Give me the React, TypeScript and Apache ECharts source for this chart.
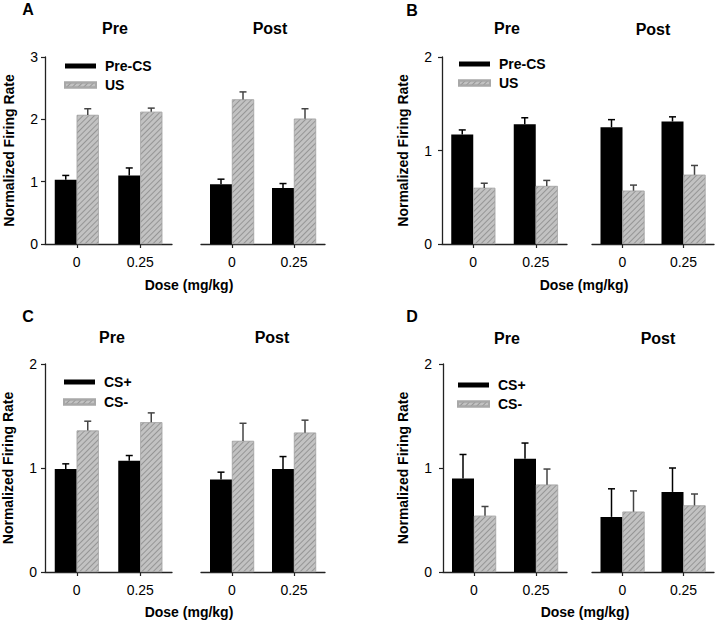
import React, { useEffect, useRef } from 'react';
import * as echarts from 'echarts';

// ---------- data ----------
const doseCategories = ['0', '0.25'];
const phases = ['Pre', 'Post'];

// Panel A: Pre-CS vs US
const aPrePreCS = [1.03, 1.1];
const aPrePreCSErr = [0.07, 0.12];
const aPreUS = [2.07, 2.12];
const aPreUSErr = [0.1, 0.06];
const aPostPreCS = [0.96, 0.9];
const aPostPreCSErr = [0.08, 0.07];
const aPostUS = [2.32, 2.01];
const aPostUSErr = [0.12, 0.16];

// Panel B: Pre-CS vs US
const bPrePreCS = [1.17, 1.28];
const bPrePreCSErr = [0.05, 0.07];
const bPreUS = [0.6, 0.62];
const bPreUSErr = [0.05, 0.06];
const bPostPreCS = [1.25, 1.31];
const bPostPreCSErr = [0.08, 0.05];
const bPostUS = [0.57, 0.74];
const bPostUSErr = [0.06, 0.1];

// Panel C: CS+ vs CS-
const cPreCSPlus = [0.99, 1.07];
const cPreCSPlusErr = [0.05, 0.05];
const cPreCSMinus = [1.36, 1.44];
const cPreCSMinusErr = [0.09, 0.09];
const cPostCSPlus = [0.89, 0.99];
const cPostCSPlusErr = [0.07, 0.12];
const cPostCSMinus = [1.26, 1.34];
const cPostCSMinusErr = [0.17, 0.12];

// Panel D: CS+ vs CS-
const dPreCSPlus = [0.9, 1.09];
const dPreCSPlusErr = [0.23, 0.15];
const dPreCSMinus = [0.54, 0.84];
const dPreCSMinusErr = [0.09, 0.15];
const dPostCSPlus = [0.53, 0.77];
const dPostCSPlusErr = [0.27, 0.23];
const dPostCSMinus = [0.58, 0.64];
const dPostCSMinusErr = [0.2, 0.11];

const legendAB = ['Pre-CS', 'US'];
const legendCD = ['CS+', 'CS-'];
const yMaxA = 3;
const yMaxOther = 2;

const yAxisName = 'Normalized Firing Rate';
const xAxisName = 'Dose (mg/kg)';

// ---------- layout / style ----------
const FONT = '"Liberation Sans", Arial, Helvetica, sans-serif';
const AXIS_COLOR = '#222';
const BAR_W = 22;
const GRAY = '#c2c2c2';

const panels = [
  {
    letter: 'A', letterPos: [28, 9],
    names: legendAB, yMax: yMaxA,
    pre: [aPrePreCS, aPrePreCSErr, aPreUS, aPreUSErr],
    post: [aPostPreCS, aPostPreCSErr, aPostUS, aPostUSErr],
    preGrid: [45, 127], postGrid: [201, 124], top: 57, height: 187,
    titles: [[115, 28], [270, 28]], dose: [189, 285],
    nameGap: 29, labelMargin: 7, legend: [59, 54, 5],
  },
  {
    letter: 'B', letterPos: [412, 10],
    names: legendAB, yMax: yMaxOther,
    pre: [bPrePreCS, bPrePreCSErr, bPreUS, bPreUSErr],
    post: [bPostPreCS, bPostPreCSErr, bPostUS, bPostUSErr],
    preGrid: [442, 125], postGrid: [592, 122], top: 57, height: 187,
    titles: [[507, 28], [653, 29]], dose: [584, 285],
    nameGap: 32, labelMargin: 10, legend: [453, 52, 5],
  },
  {
    letter: 'C', letterPos: [28, 316],
    names: legendCD, yMax: yMaxOther,
    pre: [cPreCSPlus, cPreCSPlusErr, cPreCSMinus, cPreCSMinusErr],
    post: [cPostCSPlus, cPostCSPlusErr, cPostCSMinus, cPostCSMinusErr],
    preGrid: [45, 127], postGrid: [201, 124], top: 364, height: 208,
    titles: [[112, 337], [272, 337]], dose: [189, 612],
    nameGap: 30, labelMargin: 8, legend: [58, 370, 6],
  },
  {
    letter: 'D', letterPos: [412, 316],
    names: legendCD, yMax: yMaxOther,
    pre: [dPreCSPlus, dPreCSPlusErr, dPreCSMinus, dPreCSMinusErr],
    post: [dPostCSPlus, dPostCSPlusErr, dPostCSMinus, dPostCSMinusErr],
    preGrid: [443, 124], postGrid: [592, 122], top: 364, height: 208,
    titles: [[507, 338], [658, 338]], dose: [585, 612],
    nameGap: 33, labelMargin: 11, legend: [452, 373, 5],
  },
];

const grayDecal = {
  symbol: 'rect',
  symbolSize: 1,
  color: '#959595',
  dashArrayX: [1, 0],
  dashArrayY: [0.9, 2.3],
  rotation: -Math.PI / 4,
};

function buildOption() {
  const grid: any[] = [];
  const xAxis: any[] = [];
  const yAxis: any[] = [];
  const series: any[] = [];
  const graphic: any[] = [];
  const legend: any[] = [];

  panels.forEach((p) => {
    graphic.push({
      type: 'text', x: p.letterPos[0], y: p.letterPos[1],
      style: { text: p.letter, font: `bold 16px ${FONT}`, fill: '#000', textAlign: 'center', textVerticalAlign: 'middle' },
    });
    graphic.push({
      type: 'text', x: p.dose[0], y: p.dose[1],
      style: { text: xAxisName, font: `bold 14px ${FONT}`, fill: '#000', textAlign: 'center', textVerticalAlign: 'middle' },
    });
    legend.push({
      left: p.legend[0], top: p.legend[1], orient: 'vertical',
      itemWidth: 31, itemHeight: 5, itemGap: p.legend[2],
      selectedMode: false, icon: 'rect',
      data: p.names,
      textStyle: { fontFamily: FONT, fontWeight: 'bold', fontSize: 14, color: '#000', padding: [0, 0, 0, 4] },
    });

    [p.pre, p.post].forEach((d, k) => {
      const gi = grid.length;
      const g = k === 0 ? p.preGrid : p.postGrid;
      grid.push({ left: g[0], width: g[1], top: p.top, height: p.height, containLabel: false });
      graphic.push({
        type: 'text', x: p.titles[k][0], y: p.titles[k][1],
        style: { text: phases[k], font: `bold 16px ${FONT}`, fill: '#000', textAlign: 'center', textVerticalAlign: 'middle' },
      });
      xAxis.push({
        type: 'category', gridIndex: gi, data: doseCategories, boundaryGap: true,
        axisLine: { show: true, lineStyle: { color: AXIS_COLOR, width: 1.3 } },
        axisTick: { show: true, alignWithLabel: true, length: 4, lineStyle: { color: AXIS_COLOR, width: 1.2 } },
        axisLabel: { fontFamily: FONT, fontSize: 14, color: '#000', margin: 11 },
        splitLine: { show: false },
      });
      yAxis.push({
        type: 'value', gridIndex: gi, min: 0, max: p.yMax, interval: 1,
        show: k === 0,
        axisLine: { show: true, lineStyle: { color: AXIS_COLOR, width: 1.3 } },
        axisTick: { show: true, length: 4, lineStyle: { color: AXIS_COLOR, width: 1.2 } },
        axisLabel: { fontFamily: FONT, fontSize: 14, color: '#000', margin: p.labelMargin },
        splitLine: { show: false },
        name: k === 0 ? yAxisName : '',
        nameLocation: 'middle', nameRotate: 90, nameGap: p.nameGap,
        nameTextStyle: { fontFamily: FONT, fontWeight: 'bold', fontSize: 14, color: '#000' },
      });
      const [v1, e1, v2, e2] = d as number[][];
      series.push({
        type: 'bar', name: p.names[0], xAxisIndex: gi, yAxisIndex: gi,
        data: v1, barWidth: BAR_W, barGap: '0%',
        itemStyle: { color: '#000' },
      });
      series.push({
        type: 'bar', name: p.names[1], xAxisIndex: gi, yAxisIndex: gi,
        data: v2, barWidth: BAR_W, barGap: '0%',
        itemStyle: { color: GRAY, borderColor: '#a8a8a8', borderWidth: 0.6, decal: grayDecal },
      });
      const errSeries = (vals: number[], errs: number[], sign: number, color: string) => ({
        type: 'custom', name: 'err', xAxisIndex: gi, yAxisIndex: gi, z: 5,
        data: vals.map((v, i) => [i, v, v + errs[i]]),
        renderItem: (params: any, api: any) => {
          const base = api.coord([api.value(0), api.value(1)]);
          const top = api.coord([api.value(0), api.value(2)]);
          const x = base[0] + sign * BAR_W / 2;
          const st = { stroke: color, lineWidth: 1.5 };
          return {
            type: 'group',
            children: [
              { type: 'line', shape: { x1: x, y1: base[1], x2: x, y2: top[1] }, style: st },
              { type: 'line', shape: { x1: x - 3.5, y1: top[1], x2: x + 3.5, y2: top[1] }, style: st },
            ],
          };
        },
      });
      series.push(errSeries(v1, e1, -1, '#000'));
      series.push(errSeries(v2, e2, 1, '#444'));
    });
  });

  return {
    animation: false,
    backgroundColor: '#fff',
    textStyle: { fontFamily: FONT },
    grid, xAxis, yAxis, series, graphic, legend,
  };
}

export default function App() {
  const ref = useRef<HTMLDivElement>(null);
  useEffect(() => {
    if (!ref.current) return;
    const chart = echarts.init(ref.current, undefined, { renderer: 'svg' });
    chart.setOption(buildOption() as any);
    return () => chart.dispose();
  }, []);
  return (
    <div
      ref={ref}
      style={{ position: 'fixed', left: 0, top: 0, width: 720, height: 622, background: '#fff' }}
    />
  );
}
